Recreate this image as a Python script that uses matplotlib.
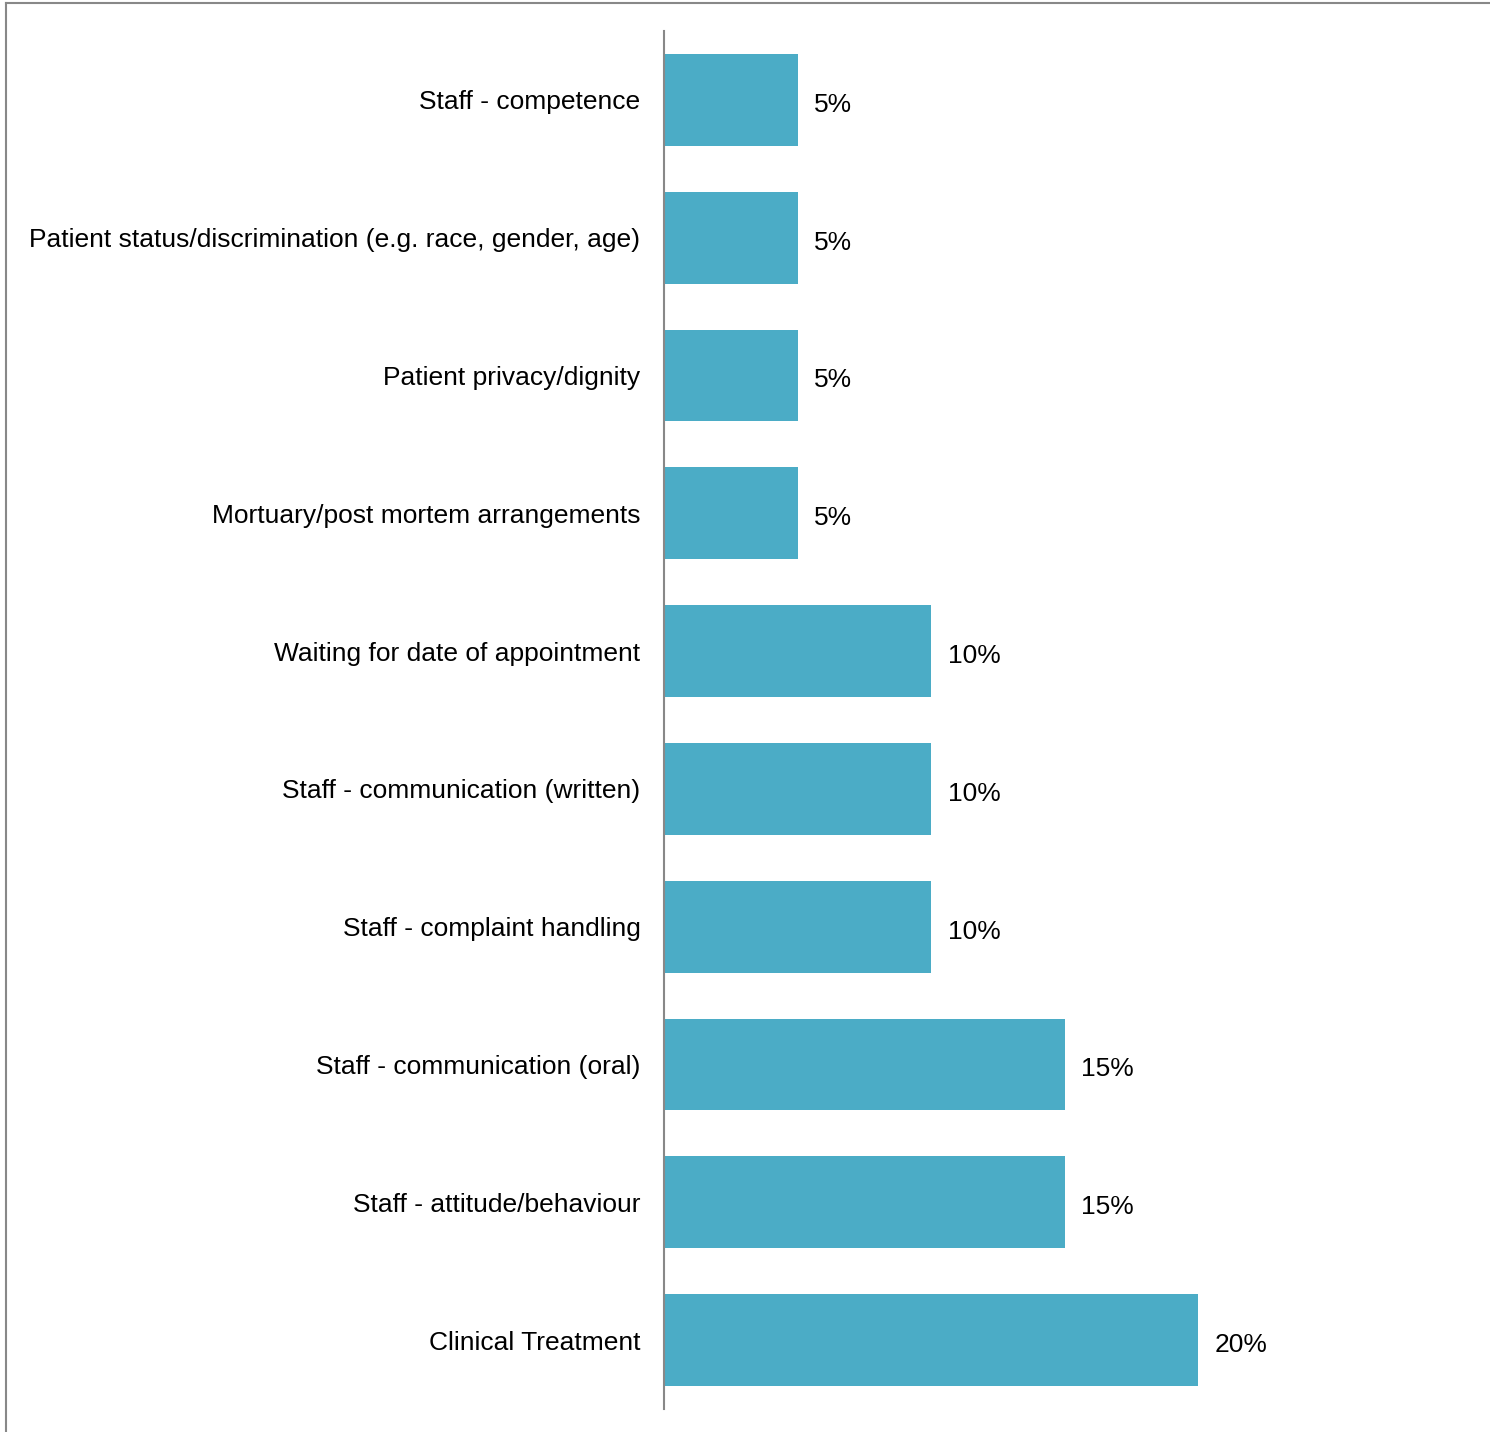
import matplotlib.pyplot as plt
from matplotlib.lines import Line2D

plt.rcParams['font.family'] = ['Liberation Sans', 'DejaVu Sans']

# data (top to bottom as shown)
categories = [
    "Staff - competence",
    "Patient status/discrimination (e.g. race, gender, age)",
    "Patient privacy/dignity",
    "Mortuary/post mortem arrangements",
    "Waiting for date of appointment",
    "Staff - communication (written)",
    "Staff - complaint handling",
    "Staff - communication (oral)",
    "Staff - attitude/behaviour",
    "Clinical Treatment",
]
values = [5, 5, 5, 5, 10, 10, 10, 15, 15, 20]

W, H = 1490, 1432
fig = plt.figure(figsize=(W / 100, H / 100), dpi=100)
ax = fig.add_axes([664 / W, 1 - 1409 / H, (1465 - 664) / W, (1409 - 31) / H])

ypos = list(range(len(categories)))
ax.barh(ypos, values, height=0.665, color='#4BACC6')
ax.set_ylim(len(categories) - 0.5, -0.5)
ax.set_xlim(0, 30)

ax.set_yticks(ypos)
ax.set_yticklabels(categories, fontsize=19)
ax.tick_params(axis='y', length=0, pad=17)
ax.set_xticks([])

for s in ['top', 'right', 'bottom']:
    ax.spines[s].set_visible(False)
ax.spines['left'].set_color('#888888')
ax.spines['left'].set_linewidth(1.5)

for y, v in zip(ypos, values):
    ax.annotate(f"{v}%", (v, y), xytext=(12, -3.5), textcoords='offset points',
                va='center', ha='left', fontsize=19)

# outer frame lines (top and left)
fig.add_artist(Line2D([5.5 / W, 1], [1 - 2.5 / H, 1 - 2.5 / H], color='#888888', lw=1.5))
fig.add_artist(Line2D([5.5 / W, 5.5 / W], [0, 1 - 2.5 / H], color='#888888', lw=1.5))

fig.savefig("out.png", dpi=100)
